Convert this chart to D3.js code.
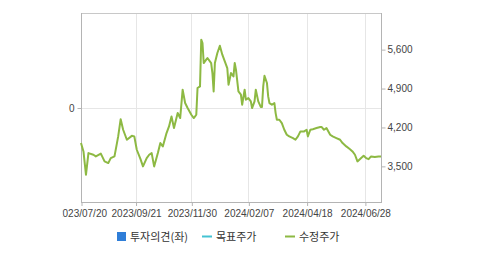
<!DOCTYPE html>
<html>
<head>
<meta charset="utf-8">
<script src="https://cdn.jsdelivr.net/npm/d3@7"></script>
<style>
  html, body { margin: 0; padding: 0; background: #fff; }
  svg { display: block; }
  .axis text { font-family: "Liberation Sans", Arial, sans-serif; font-size: 10px; fill: #444; }
  .legend text { font-family: "Noto Sans CJK KR", sans-serif; font-size: 11px; fill: #333; }
</style>
</head>
<body>
<svg id="chart"></svg>
<script>
// trading day index since 2023/07/20 and adjusted close (수정주가)
const tradingDay = [0, 2, 4, 6, 10, 12, 16, 19, 22, 24, 27, 29, 30, 32, 34, 37, 41, 43, 45, 48,
  50, 53, 55, 57, 59, 62, 64, 66, 69, 71, 73, 75, 78, 80, 82, 84, 86, 89, 91, 93,
  94, 96, 97, 98, 99, 101, 102, 105, 106, 107, 108, 110, 112, 114, 116, 118, 119, 121, 123, 124,
  125, 127, 129, 130, 132, 133, 135, 137, 138, 140, 141, 143, 145, 146, 147, 148, 150, 151, 152, 154,
  156, 157, 158, 160, 162, 164, 166, 168, 171, 173, 175, 177, 180, 182, 183, 185, 187, 190, 193, 194,
  196, 198, 201, 203, 206, 209, 211, 214, 217, 219, 221, 223, 226, 228, 230, 232, 234, 237, 240, 242];
const adjPrice = [3910, 3760, 3340, 3730, 3700, 3670, 3720, 3580, 3550, 3640, 3670, 3910, 4030, 4340, 4150, 3970, 4040, 4030, 3790, 3620,
  3490, 3640, 3700, 3730, 3490, 3730, 3910, 3850, 4090, 4210, 4390, 4180, 4450, 4360, 4870, 4630, 4540, 4420, 4360, 4420,
  4900, 4930, 5770, 5710, 5350, 5410, 5440, 5350, 5170, 4840, 5350, 5530, 5660, 5500, 5380, 5260, 4960, 5170, 5110, 5350,
  5230, 4840, 4780, 4600, 4870, 4690, 4720, 4660, 4540, 4660, 4870, 4660, 4560, 4560, 4930, 5120, 4990, 4750, 4630, 4600,
  4630, 4450, 4330, 4330, 4270, 4150, 4060, 4030, 4000, 3970, 4030, 4120, 4120, 4150, 4030, 4150, 4160, 4180, 4200, 4200,
  4150, 4180, 4060, 4030, 4000, 3970, 3910, 3850, 3800, 3760, 3700, 3580, 3640, 3680, 3640, 3620, 3670, 3660, 3670, 3670];

const tickDays = [0, 44, 89, 135, 182, 229];
const tickLabels = ["2023/07/20", "2023/09/21", "2023/11/30", "2024/02/07", "2024/04/18", "2024/06/28"];
const priceTicks = [3500, 4200, 4900, 5600];
const opinionTicks = [0];

const legendItems = ["투자의견(좌)", "목표주가", "수정주가"];
const legendColors = ["#2f7ed8", "#45c3d3", "#8db943"];

const W = 479, H = 254;
const plot = {left: 81, right: 381, top: 13, bottom: 202};

const svg = d3.select("#chart").attr("width", W).attr("height", H);

const x = d3.scaleLinear().domain([0, 242]).range([plot.left, plot.right]);
const y = d3.scaleLinear().domain([2850, 6250]).range([plot.bottom, plot.top]);
const yLeft = d3.scaleLinear().domain([-1, 1]).range([plot.bottom, plot.top]);

// grid
const grid = svg.append("g").attr("stroke", "#e6e6e6").attr("shape-rendering", "crispEdges");
grid.selectAll(".vg").data(tickDays.slice(1)).join("line")
  .attr("x1", d => Math.round(x(d)) + 0.5).attr("x2", d => Math.round(x(d)) + 0.5)
  .attr("y1", plot.top).attr("y2", plot.bottom);
grid.selectAll(".hg").data(opinionTicks).join("line")
  .attr("x1", plot.left).attr("x2", plot.right)
  .attr("y1", d => Math.round(yLeft(d)) + 0.5).attr("y2", d => Math.round(yLeft(d)) + 0.5);

// frame
const frame = svg.append("g").attr("shape-rendering", "crispEdges").attr("fill", "none");
frame.append("line").attr("x1", plot.left).attr("x2", plot.right + 0.5)
  .attr("y1", plot.top + 0.5).attr("y2", plot.top + 0.5).attr("stroke", "#c8c8c8");
frame.append("line").attr("x1", plot.right + 0.5).attr("x2", plot.right + 0.5)
  .attr("y1", plot.top).attr("y2", plot.bottom).attr("stroke", "#b4b4b4");
frame.append("line").attr("x1", plot.left + 0.5).attr("x2", plot.left + 0.5)
  .attr("y1", plot.top).attr("y2", plot.bottom).attr("stroke", "#b4b4b4");
frame.append("line").attr("x1", plot.left).attr("x2", plot.right + 1)
  .attr("y1", plot.bottom + 0.5).attr("y2", plot.bottom + 0.5).attr("stroke", "#b4b4b4");

// axes (first date label is cut at the left edge of the chart box)
svg.append("clipPath").attr("id", "xclip")
  .append("rect").attr("x", 62).attr("y", 0).attr("width", W - 62).attr("height", H);

const xAxis = d3.axisBottom(x).tickValues(tickDays)
  .tickFormat((d, i) => tickLabels[i]).tickSize(4).tickPadding(4);
svg.append("g").attr("class", "axis").attr("clip-path", "url(#xclip)")
  .attr("transform", `translate(0.5,${plot.bottom})`).call(xAxis)
  .call(g => g.select(".domain").remove())
  .call(g => g.selectAll("line").attr("stroke", "#b4b4b4"));

const rAxis = d3.axisRight(y).tickValues(priceTicks).tickFormat(d3.format(",")).tickSize(4).tickPadding(2);
svg.append("g").attr("class", "axis")
  .attr("transform", `translate(${plot.right + 0.5},0.5)`).call(rAxis)
  .call(g => g.select(".domain").remove())
  .call(g => g.selectAll("line").attr("stroke", "#b4b4b4"));

const lAxis = d3.axisLeft(yLeft).tickValues(opinionTicks).tickFormat(d3.format("d")).tickSize(4).tickPadding(3);
svg.append("g").attr("class", "axis")
  .attr("transform", `translate(${plot.left + 0.5},0.5)`).call(lAxis)
  .call(g => g.select(".domain").remove())
  .call(g => g.selectAll("line").attr("stroke", "#b4b4b4"));

// price line
const series = tradingDay.map((d, i) => ({day: d, price: adjPrice[i]}));
const line = d3.line().x(d => x(d.day)).y(d => y(d.price));
svg.append("path").datum(series)
  .attr("fill", "none").attr("stroke", legendColors[2])
  .attr("stroke-width", 2).attr("stroke-linejoin", "round")
  .attr("d", line);

// legend
const legX = [117, 202, 285];
const leg = svg.append("g").attr("class", "legend");
leg.append("rect").attr("x", legX[0]).attr("y", 232).attr("width", 9).attr("height", 9).attr("fill", legendColors[0]);
leg.append("line").attr("x1", legX[1]).attr("x2", legX[1] + 10).attr("y1", 236.5).attr("y2", 236.5)
  .attr("stroke", legendColors[1]).attr("stroke-width", 2);
leg.append("line").attr("x1", legX[2]).attr("x2", legX[2] + 10).attr("y1", 236.5).attr("y2", 236.5)
  .attr("stroke", legendColors[2]).attr("stroke-width", 2);
leg.selectAll("text").data(legendItems).join("text")
  .attr("x", (d, i) => legX[i] + (i === 0 ? 13 : 14))
  .attr("y", 240.5)
  .text(d => d);
</script>
</body>
</html>
